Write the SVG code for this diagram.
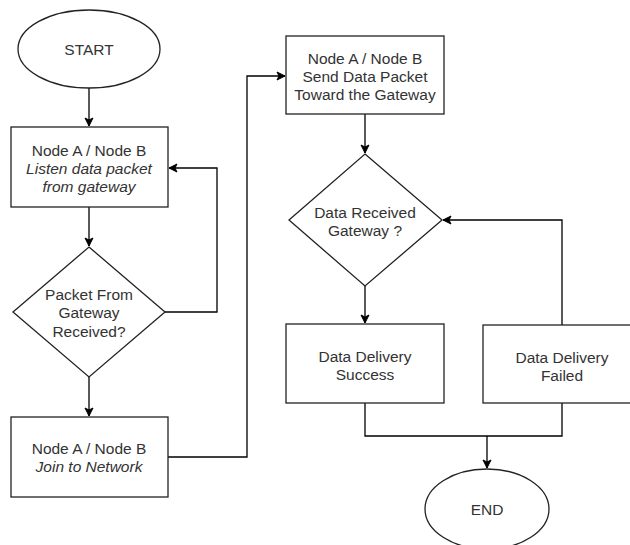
<svg xmlns="http://www.w3.org/2000/svg" width="630" height="545" viewBox="0 0 630 545">
<defs>
<marker id="arr" markerWidth="10" markerHeight="10" refX="9" refY="5" orient="auto" markerUnits="userSpaceOnUse">
<path d="M1,1 L9,5 L1,9 L3,5 Z" fill="#000" stroke="#000" stroke-width="1"/>
</marker>
<style>
.s{fill:#fff;stroke:#222;stroke-width:1.3}
.c{fill:none;stroke:#000;stroke-width:1.3}
text{font-family:"Liberation Sans",Arial,sans-serif;font-size:15.5px;fill:#333;text-anchor:middle;dominant-baseline:central}
.i{font-style:italic}
</style>
</defs>
<rect width="630" height="545" fill="#fff"/>
<g id="connectors">
<path class="c" d="M89,88 V126" marker-end="url(#arr)"/>
<path class="c" d="M89,207 V246" marker-end="url(#arr)"/>
<path class="c" d="M165,312 H217 V168 H169" marker-end="url(#arr)"/>
<path class="c" d="M89,377 V416" marker-end="url(#arr)"/>
<path class="c" d="M168,457 H247 V76 H285" marker-end="url(#arr)"/>
<path class="c" d="M365,114 V153" marker-end="url(#arr)"/>
<path class="c" d="M365,286 V323" marker-end="url(#arr)"/>
<path class="c" d="M562,325 V220 H443" marker-end="url(#arr)"/>
<path class="c" d="M365,403 V436 H562 V403"/>
<path class="c" d="M487,436 V468" marker-end="url(#arr)"/>
</g>
<g id="start">
<ellipse class="s" cx="89" cy="49" rx="71" ry="39"/>
<text x="89" y="49">START</text>
</g>
<g id="listen">
<rect class="s" x="11" y="127" width="157" height="80"/>
<text x="89" y="150">Node A / Node B</text>
<text class="i" x="89" y="168">Listen data packet</text>
<text class="i" x="89" y="186">from gateway</text>
</g>
<g id="packetReceived">
<polygon class="s" points="89,247 165,312 89,377 13,312"/>
<text x="89" y="294">Packet From</text>
<text x="89" y="312">Gateway</text>
<text x="89" y="331">Received?</text>
</g>
<g id="join">
<rect class="s" x="11" y="417" width="157" height="80"/>
<text x="89" y="448">Node A / Node B</text>
<text class="i" x="89" y="466">Join to Network</text>
</g>
<g id="send">
<rect class="s" x="286" y="36" width="158" height="78"/>
<text x="365" y="58">Node A / Node B</text>
<text x="365" y="76">Send Data Packet</text>
<text x="365" y="94">Toward the Gateway</text>
</g>
<g id="dataReceived">
<polygon class="s" points="365,154 442,220 365,286 289,220"/>
<text x="365" y="212">Data Received</text>
<text x="365" y="230">Gateway ?</text>
</g>
<g id="success">
<rect class="s" x="286" y="324" width="158" height="79"/>
<text x="365" y="356">Data Delivery</text>
<text x="365" y="374">Success</text>
</g>
<g id="failed">
<rect class="s" x="483" y="325" width="158" height="78"/>
<text x="562" y="357">Data Delivery</text>
<text x="562" y="375">Failed</text>
</g>
<g id="end">
<ellipse class="s" cx="487" cy="509" rx="62" ry="40"/>
<text x="487" y="509">END</text>
</g>
</svg>
